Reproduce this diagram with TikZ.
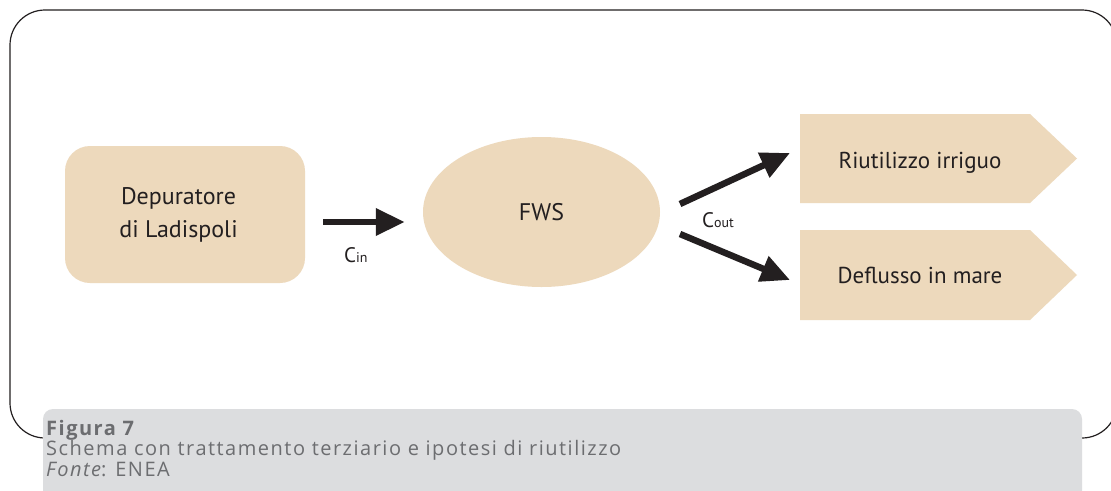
\documentclass[tikz,border=0pt]{standalone}
\usepackage{fontspec}
\setmainfont{PT Sans}
\newfontfamily\capfont[LetterSpace=7.5]{Open Sans}
\usetikzlibrary{arrows.meta,shapes.geometric}
\definecolor{beige}{RGB}{237,217,188}
\definecolor{capgray}{RGB}{220,221,223}
\definecolor{captext}{RGB}{108,109,112}
\definecolor{ink}{RGB}{35,31,32}
\tikzset{
  frame/.style={draw=ink, line width=1.2pt},
  bigtext/.style={font=\fontsize{23}{33}\selectfont, text=ink},
  labtext/.style={font=\fontsize{21}{21}\selectfont, text=ink, inner sep=0pt},
  flow/.style={draw=ink, line width=6.5pt, -{Triangle[length=29pt,width=26pt]}},
  captxt/.style={font=\capfont\fontsize{20}{21}\selectfont, text=captext, anchor=base west, inner sep=0pt},
}
\newcommand{\smallsub}[1]{{\fontsize{14}{14}\selectfont #1}}
\begin{document}
\begin{tikzpicture}[x=1pt,y=-1pt]
\clip (0,0) rectangle (1111,490);
\fill[white] (0,0) rectangle (1111,490);
% outer frame
\draw[frame, rounded corners=35pt] (10,10) rectangle (1117,438);
% caption box
\fill[capgray, rounded corners=10pt] (43,409) rectangle (1082,505);
\node[captxt, font=\capfont\bfseries\fontsize{20}{21}\selectfont] (cap1) at (46,435) {Figura 7};
\node[captxt] (cap2) at (46,455) {Schema con trattamento terziario e ipotesi di riutilizzo};
\node[captxt] (cap3) at (46,476) {\itshape Fonte\upshape: ENEA};
% nodes
\node[fill=beige, rounded corners=25pt, minimum width=240pt, minimum height=137pt, inner sep=0pt] (dep) at (185,214.5) {};
\node[bigtext, align=center, inner sep=0pt, font=\fontsize{24}{33}\selectfont] (deptxt) at (178.5,214.5) {Depuratore\\di Ladispoli};
\node[ellipse, fill=beige, minimum width=237pt, minimum height=150pt, inner sep=0pt, bigtext, font=\fontsize{24}{33}\selectfont] (fws) at (541.5,212) {FWS};
\fill[beige] (800,114) -- (1030,114) -- (1077,158.5) -- (1030,203) -- (800,203) -- cycle;
\fill[beige] (800,230) -- (1030,230) -- (1077,275) -- (1030,320) -- (800,320) -- cycle;
\node[bigtext, inner sep=0pt] (riu) at (920,163) {Riutilizzo irriguo};
\node[bigtext, inner sep=0pt] (def) at (920,275) {Deflusso in mare};
% connectors
\coordinate (o1s) at (680,204);
\coordinate (o1e) at (790,153);
\coordinate (o2s) at (680,234);
\coordinate (o2e) at (790,280);
\draw[flow] ([xshift=18pt]dep.east |- 0,222) -- ([xshift=-18pt]fws.west |- 0,222);
\draw[flow] (o1s) -- (o1e);
\draw[flow] (o2s) -- (o2e);
% labels
\node[labtext, anchor=base west] (cin) at (344,262) {C\smallsub{in}};
\node[labtext, anchor=base west] (cout) at (702,227) {C\smallsub{out}};
\end{tikzpicture}
\end{document}
